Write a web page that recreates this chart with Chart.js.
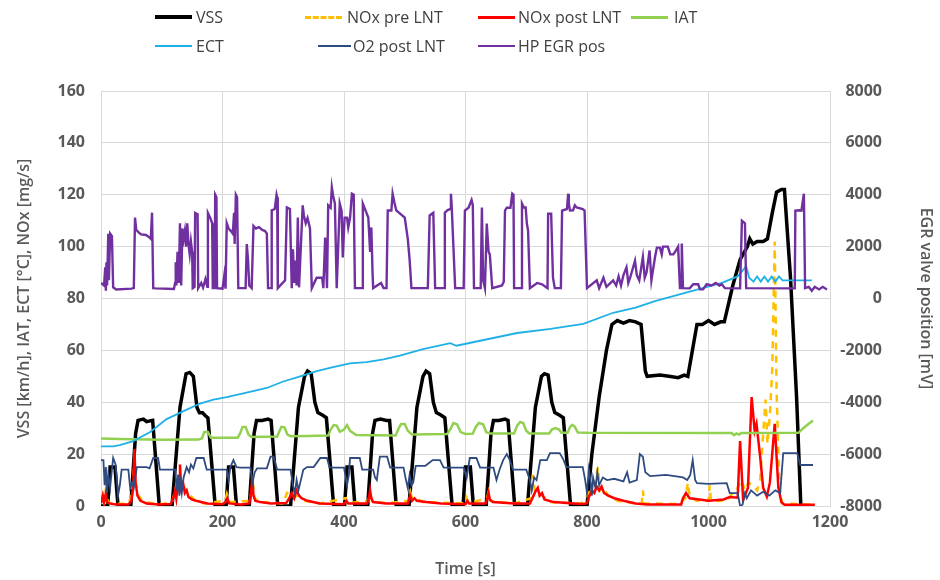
<!DOCTYPE html>
<html>
<head>
<meta charset="utf-8">
<script src="https://cdn.jsdelivr.net/npm/chart.js@4.4.1/dist/chart.umd.min.js"></script>
<style>
  body { margin: 0; background: #fff; }
  #wrap { position: relative; width: 940px; height: 580px; }
  .lg { position: absolute; font-family: "Open Sans", sans-serif; font-size: 16px; color: #404040; line-height: 20px; white-space: nowrap; }
  .sw { position: absolute; height: 0; }
</style>
</head>
<body>
<div id="wrap">
  <canvas id="chart" width="940" height="580"></canvas>

  <!-- leyenda en dos filas como en el original -->
  <div class="sw" style="left:155px;top:15px;width:37px;border-top:4px solid #000;"></div>
  <div class="lg" style="left:196px;top:7px;">VSS</div>
  <div class="sw" style="left:305px;top:16px;width:37px;border-top:3px dashed #ffc000;"></div>
  <div class="lg" style="left:347px;top:7px;">NOx pre LNT</div>
  <div class="sw" style="left:478px;top:16px;width:37px;border-top:3px solid #ff0000;"></div>
  <div class="lg" style="left:518px;top:7px;">NOx post LNT</div>
  <div class="sw" style="left:631px;top:16px;width:37px;border-top:3px solid #92d050;"></div>
  <div class="lg" style="left:674px;top:7px;">IAT</div>

  <div class="sw" style="left:155px;top:45px;width:37px;border-top:2px solid #1fb0e6;"></div>
  <div class="lg" style="left:196px;top:36px;">ECT</div>
  <div class="sw" style="left:318px;top:45px;width:33px;border-top:2px solid #2f4b80;"></div>
  <div class="lg" style="left:353px;top:36px;">O2 post LNT</div>
  <div class="sw" style="left:478px;top:45px;width:37px;border-top:2px solid #7030a0;"></div>
  <div class="lg" style="left:518px;top:36px;">HP EGR pos</div>
</div>

<script>
// Ejes
const xTicks = [0, 200, 400, 600, 800, 1000, 1200];
const leftTicks = [0, 20, 40, 60, 80, 100, 120, 140, 160];
const rightTicks = [-8000, -6000, -4000, -2000, 0, 2000, 4000, 6000, 8000];

// Series [tiempo s, valor]
const vss = [
  [0,0],[11,0],[15,15],[23,15],[28,0],[49,0],[57,28],[61,33],[70,33.5],[75,32.5],[85,33],[96,0],
  [117,0],[130,38],[140,51],[146,51.5],[152,50],[158,38],[162,36],[167,36],[171,35],[176,34],[188,0],
  [206,0],[210,15],[218,15],[223,0],[244,0],[252,28],[256,33],[265,33],[275,33.5],[280,33],[291,0],
  [312,0],[325,38],[335,50],[340,52],[346,51],[352,40],[357,36],[365,35],[371,34],[383,0],
  [401,0],[405,15],[413,15],[418,0],[439,0],[447,28],[451,33],[460,33.5],[470,33],[475,33],[486,0],
  [507,0],[520,38],[530,50],[535,52],[541,51],[547,40],[552,36],[560,35],[566,34],[578,0],
  [596,0],[600,15],[608,15],[613,0],[634,0],[642,28],[646,33],[655,33],[665,33.5],[670,33],[681,0],
  [702,0],[715,38],[725,50],[730,51],[736,50.5],[742,40],[747,36],[755,35],[761,34],[773,0],
  [800,0],[808,20],[820,42],[832,60],[841,70],[850,71.5],[860,70.5],[870,71.5],[880,71],[889,70],
  [896,52],[899,50],[920,50.5],[935,50],[950,49.5],[960,50.5],[966,50],[975,62],[981,70],[990,70],
  [1000,71.5],[1010,70],[1020,71],[1026,71],[1040,85],[1052,95],[1064,100],[1068,103],[1073,101],
  [1080,102],[1090,102],[1097,103],[1105,113],[1112,121],[1120,122],[1125,122],[1135,88],[1145,42],
  [1152,0],[1170,0]
];

const noxPre = [
  [0,1.5],[3,5],[5,2],[8,6.5],[11,2],[15,1],[45,0.8],[50,4],[53,10],[55,18],[58,8],[62,4],[70,1.5],
  [100,0.8],[117,1.5],[121,5],[124,8],[127,6],[131,9],[134,6],[138,7],[142,5],[148,3.8],[155,2],
  [170,1],[204,2],[207,4.5],[210,1.5],[245,2],[248,6],[250,9],[253,3],[260,1.5],[300,1],[303,3],
  [306,5],[312,4],[318,3.5],[325,4],[335,2],[360,1],[403,3],[406,1],[440,2],[443,5],[446,2],[470,1],
  [505,2],[509,5.5],[512,3],[518,3],[530,1.5],[600,1],[602,3],[605,1],[635,3],[638,5.5],[641,2],
  [680,1],[708,3],[711,12],[714,6],[720,6],[726,4],[740,1.5],[790,1],[803,5],[808,7],[813,8],
  [818,15],[821,6],[826,7],[835,4],[850,2],[880,1],[890,1],[892,6],[894,1],[950,0.8],[962,3],
  [966,9],[969,4],[980,2],[1000,2],[1002,8],[1004,2],[1030,2],[1040,5],[1048,7],[1054,10],[1060,6],
  [1066,9],[1072,8],[1080,6],[1085,10],[1090,28],[1094,41],[1097,24],[1101,35],[1105,53],
  [1109,102],[1112,45],[1114,28],[1117,7],[1121,1],[1175,0.5]
];

const noxPost = [
  [0,1],[3,4],[5,1.5],[8,5],[10,1.5],[14,1],[25,0.6],[45,0.6],[50,2],[53,8],[55,22],[57,9],[60,4],
  [65,2],[75,1],[95,0.6],[115,0.8],[119,3],[122,6],[124,3],[127,9],[129,6],[130,16],[132,7],
  [135,9],[138,5],[141,6],[144,3.5],[150,2.5],[160,1.8],[175,1],[200,0.7],[205,1.5],[208,3],
  [211,1],[230,0.6],[244,1],[247,5],[249,11],[251,4],[254,2],[262,1.5],[280,1],[305,1.2],[310,3],
  [314,5],[318,3],[322,6],[326,4],[330,3],[340,2],[360,1],[400,0.7],[404,2],[407,1],[438,1],[441,3],
  [443,6],[445,3],[448,1.5],[470,1],[505,1],[509,4],[512,2],[516,3],[520,2],[535,1.5],[560,1],
  [600,0.7],[603,2],[606,1],[633,1],[636,3],[638,5],[640,2.5],[645,1.5],[680,1],[706,1],[712,4],
  [716,6],[719,7],[722,4],[726,5],[730,2.5],[745,1.5],[790,0.8],[800,1],[804,4],[808,6],[812,5],
  [816,7.5],[820,6],[824,7.5],[828,5],[835,4],[845,3],[860,2],[880,1],[900,0.6],[955,0.6],[958,3],
  [963,5],[969,3],[985,2.5],[1000,2],[1025,2.5],[1035,3.5],[1048,3.2],[1052,25],[1057,2.3],
  [1065,7],[1071,42],[1076,29],[1079,31.7],[1085,19],[1090,7],[1096,3.6],[1101,9],[1109,31.7],
  [1115,7],[1120,1.5],[1125,0.5],[1175,0.5]
];

const iat = [
  [0,26],[30,25.8],[100,25.5],[160,25.6],[166,26],[170,28.5],[176,28.5],[181,26.3],[225,26.3],
  [229,28],[233,30.5],[238,30.5],[243,27.5],[248,26.6],[290,26.8],[294,29],[297,30.5],[302,30.3],
  [307,27.5],[312,26.9],[340,27],[374,27.2],[378,29.5],[383,31.2],[388,31],[393,28.6],[400,29.5],
  [405,31.2],[410,29],[420,27.4],[485,27.2],[490,30],[494,31.6],[500,31.6],[505,29],[512,27.6],
  [570,27.8],[576,30],[580,32],[586,31.5],[592,28.5],[600,27.8],[612,27.9],[617,30.5],[622,32],
  [629,31.5],[634,28.5],[640,28],[680,28],[685,31],[690,32.4],[695,32],[700,29],[705,28],[738,28],
  [742,29.5],[748,30],[754,29.5],[758,28.2],[768,28.2],[772,30.5],[776,31.3],[780,30.5],[785,28.3],
  [800,28.2],[1038,28.1],[1042,27.3],[1046,28],[1050,27.5],[1054,28.1],[1148,28.2],[1156,30],
  [1164,31.5],[1172,33]
];

const ect = [
  [0,23],[20,23],[31,23.5],[53,25],[81,28.5],[108,33.5],[135,36.5],[163,39.5],[185,41],[207,42],
  [245,44],[273,45.5],[300,48],[328,50],[355,52],[382,53.5],[410,55],[437,55.5],[465,56.5],
  [492,58],[530,60.5],[575,62.8],[585,61.8],[630,64],[685,66.7],[740,68.3],[794,70.2],[843,74.5],
  [880,76.5],[912,79],[966,82.5],[1022,86],[1048,88.5],[1062,92.5],[1067,88],[1074,86.5],
  [1080,88.5],[1086,86.5],[1092,88.5],[1098,86.5],[1104,88.5],[1110,86.5],[1116,88.5],[1122,87],
  [1130,87],[1170,87]
];

const o2 = [
  [0,17.7],[4,17.7],[6,8],[8,15],[10,5],[12,12],[15,7],[18,14],[20,18.5],[24,16],[26,11],[28,4],
  [31,8],[34,14],[45,14],[48,7],[51,9],[54,7],[59,15],[75,15],[80,14.5],[86,18.5],[94,18.5],[97,14],
  [122,14],[125,6],[127,12],[129,4],[131,9],[133,5],[136,11],[141,15],[145,13],[148,16],[152,14.5],
  [157,18.5],[169,18.5],[174,14],[207,14],[210,10],[213,15],[218,17.7],[223,15],[229,14.8],
  [246,14.8],[249,8.7],[253,13],[257,14.5],[273,14.5],[279,19],[284,19],[290,14],[312,14],[316,8],
  [319,5],[322,10],[325,6],[328,9],[333,14],[339,15],[350,15],[361,18.5],[372,18.5],[376,15],
  [383,14.8],[400,14.8],[405,8],[408,12],[410,18.5],[426,18.5],[430,14],[448,14],[451,11],[454,10],
  [459,19],[471,19],[476,14.8],[498,14.8],[502,10],[505,7],[508,12],[511,8],[514,9],[518,15.5],
  [534,15.5],[546,17.7],[558,17.7],[564,14.8],[597,14.8],[602,11],[607,18.5],[618,18.5],
  [624,14.8],[646,14.8],[651,10],[656,14],[662,17.7],[668,20],[673,17.7],[678,14],[700,14],
  [706,10],[709,6],[713,11],[717,10],[723,17.7],[734,17.7],[739,20.4],[755,20.4],[761,18],[766,15],
  [793,15],[797,10],[800,5],[803,14],[806,9],[808,4],[810,11],[814,7],[817,13],[820,8],[826,11],
  [833,10],[845,10.5],[860,9.5],[866,13],[870,9],[882,10],[887,20],[892,19],[896,13],[904,11.5],
  [930,12],[958,11],[965,10],[970,12],[974,17.7],[978,10],[981,8.8],[1000,8.5],[1030,8.8],
  [1035,5],[1048,5],[1052,0],[1056,0.5],[1060,5],[1063,3],[1070,6],[1080,4],[1090,5.5],[1100,4],
  [1110,6],[1118,5],[1123,20.4],[1146,20.4],[1151,15.8],[1172,15.8]
];

// HP EGR pos en mV (eje derecho)
const egr = [
  [0,600],[5,500],[7,1200],[8,300],[9,1400],[10,500],[12,2500],[13,700],[15,2500],[18,2400],
  [20,430],[25,350],[50,380],[54,400],[56,3120],[58,2650],[62,2550],[66,2470],[74,2450],[80,2350],
  [82,2300],[84,3310],[86,400],[90,390],[120,370],[122,600],[123,1400],[124,500],[126,1800],
  [128,600],[130,2900],[132,500],[134,2700],[136,2300],[138,2600],[140,2000],[142,2900],[144,2100],
  [146,1700],[148,2200],[150,1800],[151,400],[154,450],[155,3300],[159,3250],[160,400],[165,600],
  [168,420],[172,750],[175,450],[176,3300],[180,3100],[183,2900],[184,400],[187,400],[188,4000],
  [190,3900],[191,400],[200,380],[203,900],[205,380],[207,2900],[210,2700],[214,2600],[217,2500],
  [219,3300],[220,2100],[222,4000],[224,3900],[226,400],[238,400],[240,2100],[242,1500],[244,500],
  [248,400],[251,2800],[255,2700],[260,2750],[265,2650],[270,2600],[273,2500],[275,400],[280,400],
  [281,3400],[286,3450],[289,4000],[290,3900],[291,400],[303,700],[306,3510],[311,3450],[314,400],
  [316,1900],[318,600],[320,1460],[322,500],[324,3120],[326,430],[332,3590],[334,3200],[337,2900],
  [340,3100],[344,2700],[347,400],[355,800],[364,800],[366,400],[369,2350],[372,400],[374,3590],
  [378,3500],[380,4280],[382,3970],[385,3660],[388,400],[393,3660],[396,3390],[398,1580],
  [401,3120],[405,3120],[407,2740],[410,3120],[413,4040],[416,4000],[418,400],[430,400],[431,3660],
  [437,3300],[440,3120],[443,1800],[445,2740],[447,1000],[448,400],[461,600],[465,400],[470,400],
  [472,3390],[478,3390],[480,4040],[483,3700],[486,3400],[500,3120],[505,2300],[508,1500],
  [511,400],[538,400],[541,3200],[547,3300],[550,400],[565,400],[566,3310],[570,3400],[575,3450],
  [576,4040],[577,3700],[583,400],[597,400],[599,3390],[605,3500],[610,3800],[612,3600],[614,400],
  [625,400],[627,3510],[629,700],[632,400],[635,2890],[638,1800],[640,1700],[644,400],[660,500],
  [663,650],[665,3390],[668,3500],[674,3500],[677,4040],[679,4000],[680,400],[692,400],[693,3660],
  [696,3510],[699,3510],[701,2890],[703,2620],[706,400],[718,600],[726,550],[735,400],[736,3270],
  [741,3270],[744,800],[747,400],[757,400],[759,3390],[767,3450],[769,4040],[770,3660],[772,3390],
  [777,3400],[780,3590],[783,3510],[793,3450],[796,3390],[800,400],[816,700],[820,400],[827,800],
  [832,450],[843,700],[848,500],[852,850],[856,500],[860,900],[865,1200],[868,600],[871,800],
  [879,1460],[882,900],[886,700],[892,1600],[895,800],[898,1000],[903,1850],[906,700],[912,1600],
  [915,1960],[920,1960],[923,1700],[925,2000],[933,2000],[937,1700],[942,1700],[945,1800],
  [950,2000],[953,400],[955,400],[956,2120],[958,400],[969,390],[975,550],[983,550],[986,350],
  [991,350],[997,550],[1005,500],[1012,600],[1018,500],[1022,550],[1027,400],[1052,390],
  [1055,3000],[1060,2900],[1062,400],[1142,390],[1143,3390],[1150,3400],[1153,3390],[1157,4040],
  [1159,400],[1165,450],[1170,300],[1175,450],[1182,350],[1188,450],[1195,350]
];

function toXY(arr) {
    return arr.map(p => ({ x: p[0], y: p[1] }));
}

// sin separador de miles, como en Excel
const plain = v => String(v);

const tickFont = { family: "Open Sans", size: 16, weight: "bold" };
const titleFont = { family: "Open Sans", size: 16, weight: "600" };
const grey = "#595959";
const gridColor = "#d9d9d9";

// estilo común de las líneas
function serie(label, data, color, width, order, extra) {
    return Object.assign({
        label: label,
        data: toXY(data),
        borderColor: color,
        backgroundColor: color,
        borderWidth: width,
        pointRadius: 0,
        tension: 0,
        fill: false,
        order: order,
        yAxisID: "y"
    }, extra || {});
}

const ctx = document.getElementById("chart").getContext("2d");
new Chart(ctx, {
    type: "line",
    data: {
        datasets: [
            serie("VSS", vss, "#000000", 3.5, 6),
            serie("NOx pre LNT", noxPre, "#ffc000", 2.5, 5, { borderDash: [7, 6] }),
            serie("NOx post LNT", noxPost, "#ff0000", 2.5, 4),
            serie("IAT", iat, "#92d050", 2.5, 3),
            serie("ECT", ect, "#1fb0e6", 1.8, 2),
            serie("O2 post LNT", o2, "#2f4b80", 1.8, 1),
            serie("HP EGR pos", egr, "#7030a0", 2.4, 0, { yAxisID: "y1" })
        ]
    },
    options: {
        responsive: false,
        animation: false,
        events: [],
        layout: { padding: { top: 91, right: 58, bottom: 0, left: 0 } },
        plugins: {
            legend: { display: false },
            tooltip: { enabled: false }
        },
        scales: {
            x: {
                type: "linear",
                min: xTicks[0],
                max: xTicks[xTicks.length - 1],
                afterBuildTicks: s => { s.ticks = xTicks.map(v => ({ value: v })); },
                afterFit: s => { s.height = 74; },
                grid: { color: gridColor, drawTicks: false },
                border: { color: gridColor },
                ticks: { color: grey, font: tickFont, padding: 7, maxRotation: 0, callback: plain },
                title: { display: true, text: "Time [s]", color: grey, font: titleFont, padding: { top: 0, bottom: 1 } }
            },
            y: {
                position: "left",
                min: leftTicks[0],
                max: leftTicks[leftTicks.length - 1],
                afterBuildTicks: s => { s.ticks = leftTicks.map(v => ({ value: v })); },
                afterFit: s => { s.width = 101; },
                grid: { color: gridColor, drawTicks: false },
                border: { color: gridColor },
                ticks: { color: grey, font: tickFont, padding: 16, callback: plain },
                title: { display: true, text: "VSS [km/h], IAT, ECT [°C], NOx [mg/s]", color: grey, font: titleFont, padding: { top: 15, bottom: 0 } }
            },
            y1: {
                position: "right",
                min: rightTicks[0],
                max: rightTicks[rightTicks.length - 1],
                afterBuildTicks: s => { s.ticks = rightTicks.map(v => ({ value: v })); },
                afterFit: s => { s.width = 52; },
                grid: { display: false, drawTicks: false },
                border: { display: false },
                ticks: { color: grey, font: tickFont, crossAlign: "far", callback: plain },
                title: { display: true, text: "EGR valve position [mV]", color: grey, font: titleFont, padding: { top: -53, bottom: 0 } }
            }
        }
    }
});
</script>
</body>
</html>
